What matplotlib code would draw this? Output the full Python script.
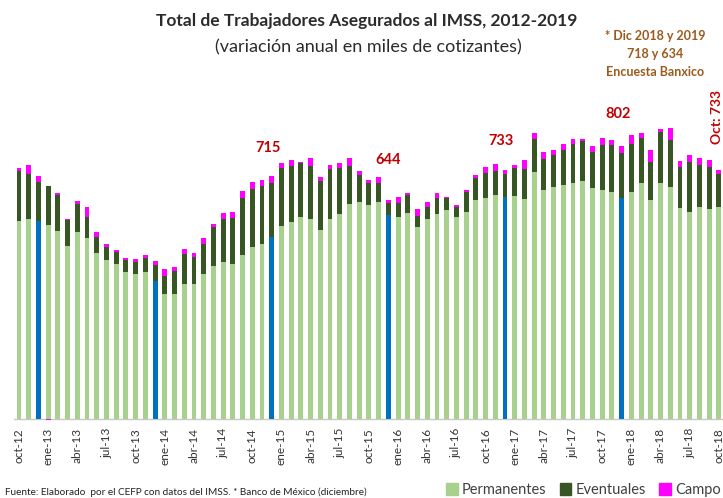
import matplotlib
matplotlib.use("Agg")
import matplotlib.pyplot as plt
from matplotlib.patches import Patch
import numpy as np

# ---------------- data (miles de cotizantes) ----------------
mes_abrev = ["ene", "feb", "mar", "abr", "may", "jun", "jul", "ago", "sep", "oct", "nov", "dic"]
meses = [f"{mes_abrev[(9 + i) % 12]}-{12 + (9 + i) // 12}" for i in range(73)]  # oct-12 .. oct-18

permanentes = [583, 588, 582, 571, 554, 510, 549, 531, 489, 468, 456, 431, 426, 431, 406, 367,
               367, 396, 396, 426, 450, 463, 455, 481, 507, 515, 534, 569, 580, 595, 589, 556,
               589, 603, 632, 639, 629, 638, 600, 595, 607, 564, 588, 603, 614, 594, 610, 643,
               649, 659, 652, 656, 648, 726, 674, 683, 687, 693, 701, 678, 674, 669, 649, 669,
               695, 644, 695, 683, 620, 610, 623, 618, 624]
eventuales = [147, 134, 116, 115, 105, 76, 82, 64, 45, 38, 34, 36, 35, 44, 46, 55,
              68, 89, 81, 88, 114, 126, 135, 168, 169, 169, 159, 168, 164, 157, 155, 145,
              145, 134, 112, 78, 65, 57, 34, 39, 52, 33, 36, 46, 35, 30, 59, 65,
              76, 71, 68, 83, 86, 97, 90, 93, 104, 116, 117, 106, 132, 137, 132, 140,
              132, 113, 148, 139, 122, 147, 124, 124, 98]
campo = [7, 24, 17, -3, 5, 1, 11, 29, 16, 9, 7, 8, 10, 6, 13, 19,
         12, 15, 12, 17, 9, 17, 19, 22, 22, 18, 22, 16, 18, 5, 23, 10,
         13, 15, 23, 11, 10, 18, 10, 19, 7, 21, 13, 16, 5, 5, 5, 11,
         16, 19, 13, 8, 27, 18, 21, 16, 18, 15, 7, 18, 20, 15, 21, 26,
         13, 34, 9, 35, 18, 20, 21, 20, 11]

etiquetas_mes = ["dic-14", "dic-15", "dic-16", "dic-17"]
etiquetas_txt = ["715", "644", "733", "802"]
etiqueta_final = "Oct: 733"

# ---------------- style ----------------
C_PERM = "#a9d18e"
C_DIC = "#0070c0"
C_EVEN = "#375623"
C_CAMPO = "#ff00ff"
C_ROJO = "#c00000"
FONT = ["Lato", "DejaVu Sans"]
plt.rcParams["font.family"] = FONT

W, H = 723, 498
fig = plt.figure(figsize=(W / 100, H / 100), dpi=100)

# axes placement in pixels
px_per_unit = 0.34
y0_px = 419          # baseline pixel
ymin, ymax = -10, 870
left_px, right_px = 14, 723
bottom_px = y0_px + (-ymin) * px_per_unit
top_px = y0_px - ymax * px_per_unit
ax = fig.add_axes([left_px / W, 1 - bottom_px / H, (right_px - left_px) / W, (bottom_px - top_px) / H])

x = np.arange(len(meses))
perm = np.array(permanentes, float)
even = np.array(eventuales, float)
camp = np.array(campo, float)
colores_perm = [C_DIC if m.startswith("dic") else C_PERM for m in meses]
bw = 0.5
ax.bar(x, perm, width=bw, color=colores_perm, linewidth=0)
ax.bar(x, even, bottom=perm, width=bw, color=C_EVEN, linewidth=0)
camp_bottom = np.where(camp >= 0, perm + even, 0)
ax.bar(x, camp, bottom=camp_bottom, width=bw, color=C_CAMPO, linewidth=0)

ax.axhline(0, color="#c8c8c8", lw=1.0, zorder=0)

slot = 9.72
ax.set_xlim(-(19 - left_px) / slot, (right_px - 19) / slot)
ax.set_ylim(ymin, ymax)
for s in ax.spines.values():
    s.set_visible(False)
ax.set_yticks([])
ax.set_xticks(x[::3])
ax.set_xticklabels(meses[::3], rotation=90, fontsize=8.5, color="#333333")
ax.tick_params(axis="x", length=0, pad=4)

# annotations above December bars
total = perm + even + camp
offs = [(-0.4, 82), (0.0, 118), (-0.4, 85), (-0.4, 95)]
for mes, txt, (dx, dy) in zip(etiquetas_mes, etiquetas_txt, offs):
    i = meses.index(mes)
    ax.text(x[i] + dx, total[i] + dy, txt, color=C_ROJO, fontsize=10.5, fontweight="bold",
            ha="center", va="center")
ax.text(x[-1] - 0.15, total[-1] + 155, etiqueta_final, color=C_ROJO, fontsize=10, fontweight="bold",
        rotation=90, ha="center", va="center", clip_on=False)

# titles
fig.text(367 / W, 1 - 21 / H, "Total de Trabajadores Asegurados al IMSS, 2012-2019",
         fontsize=12.5, fontweight="bold", color="#2b2b2b", ha="center", va="center")
fig.text(368 / W, 1 - 47 / H, "(variación anual en miles de cotizantes)",
         fontsize=13, color="#2b2b2b", ha="center", va="center")
fig.text(655 / W, 1 - 54 / H, "* Dic 2018 y 2019\n718 y 634\nEncuesta Banxico",
         fontsize=9, fontweight="bold", color="#9c5a1c", ha="center", va="center",
         linespacing=1.55)

# footer
fig.text(5 / W, 1 - 492 / H,
         "Fuente: Elaborado  por el CEFP con datos del IMSS. * Banco de México (diciembre)",
         fontsize=7.2, color="#222222", ha="left", va="center")

# legend
handles = [Patch(color=C_PERM), Patch(color=C_EVEN), Patch(color=C_CAMPO)]
fig.legend(handles, ["Permanentes", "Eventuales", "Campo"], loc="center right",
           bbox_to_anchor=(721 / W, 1 - 490 / H), ncol=3, frameon=False, fontsize=10.5,
           handlelength=0.8, handleheight=0.8, handletextpad=0.3, columnspacing=0.9,
           borderpad=0, borderaxespad=0, labelcolor="#404040")

fig.savefig("out.png", dpi=100)
